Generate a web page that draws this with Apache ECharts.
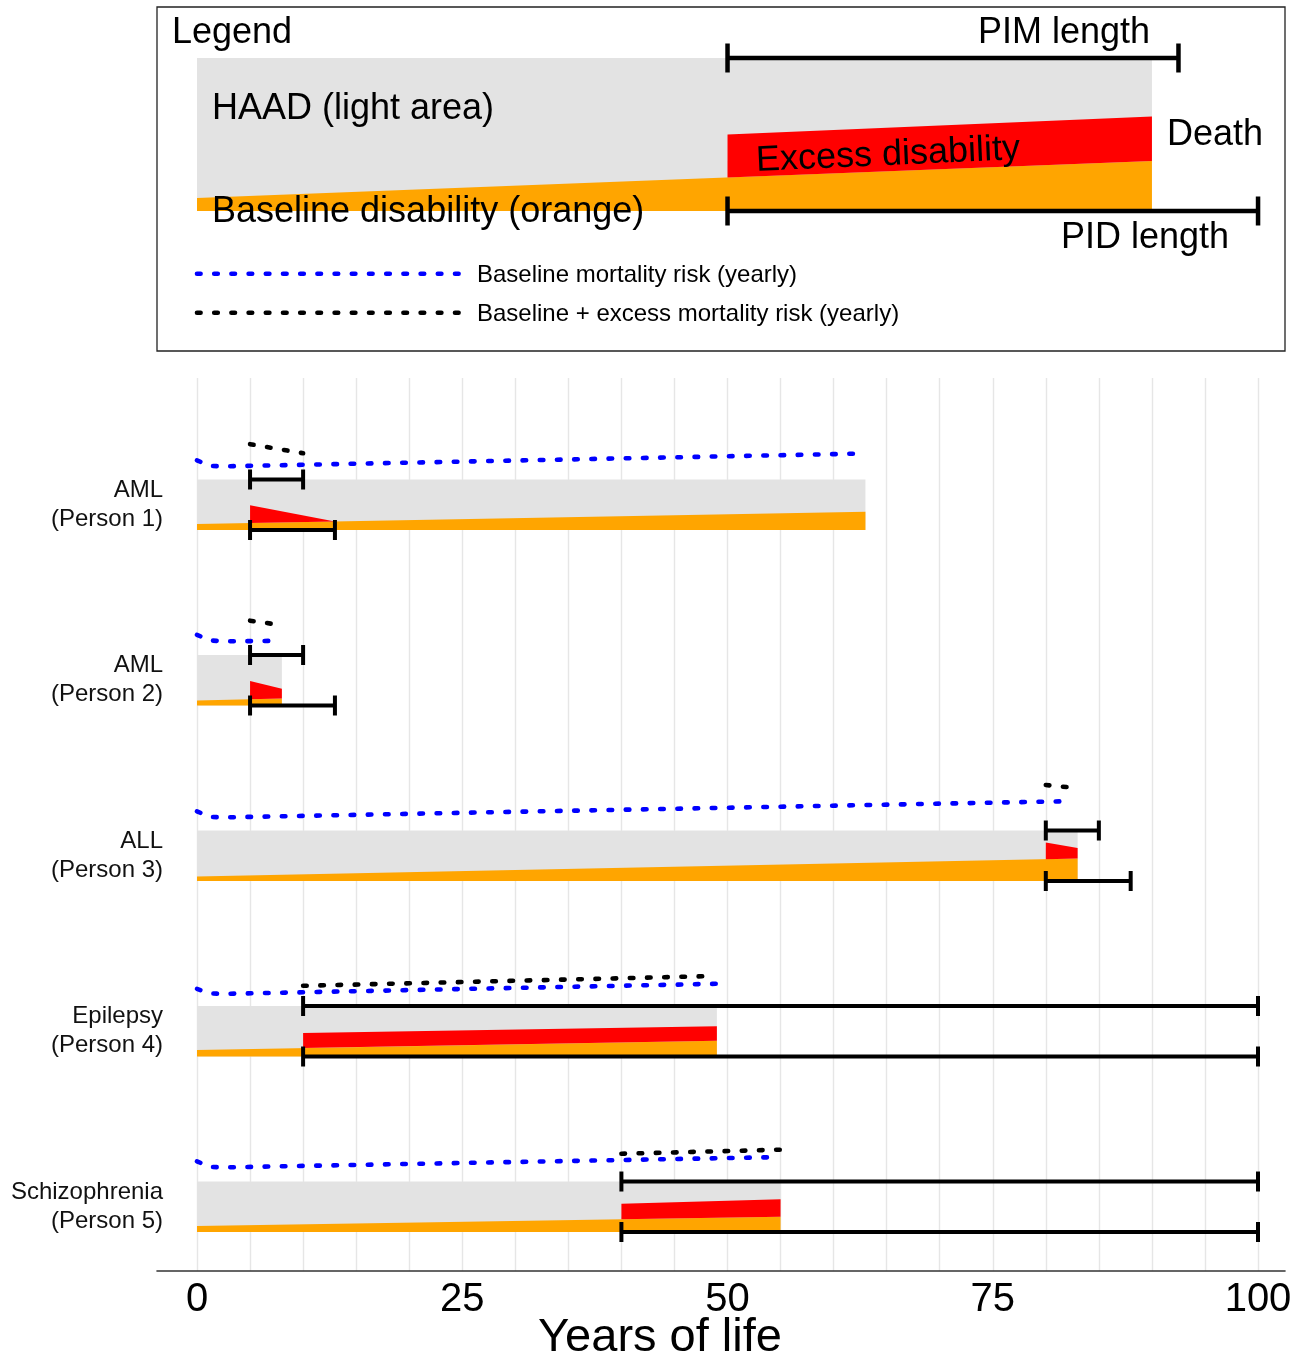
<!DOCTYPE html>
<html>
<head>
<meta charset="utf-8">
<title>Years of life</title>
<script src="https://cdn.jsdelivr.net/npm/echarts@6.0.0/dist/echarts.min.js"></script>
<style>
  html, body { margin: 0; padding: 0; background: #ffffff; }
  #chart { width: 1308px; height: 1359px; }
</style>
</head>
<body>
<div id="chart"></div>
<script>
// ---- Person rows (top to bottom) ----
const persons = ['AML\n(Person 1)', 'AML\n(Person 2)', 'ALL\n(Person 3)', 'Epilepsy\n(Person 4)', 'Schizophrenia\n(Person 5)'];
const deathAge = [63, 8, 83, 49, 55];
const onsetAge = [5, 5, 80, 10, 40];
const pimEnd = [10, 10, 85, 100, 100];
const pidEnd = [13, 13, 88, 100, 100];
// baseline disability, as a share of the HAAD band, at age 0 and at death
const baseDisStart = [0.12, 0.10, 0.09, 0.13, 0.12];
const baseDisEnd = [0.36, 0.14, 0.445, 0.31, 0.30];
// excess disability thickness [age, share of band] at onset and at its end
const excessDis = [
  [[5, 0.35], [13, 0]],
  [[5, 0.36], [8, 0.19]],
  [[80, 0.33], [83, 0.21]],
  [[10, 0.30], [49, 0.29]],
  [[40, 0.31], [55, 0.35]]
];
// yearly mortality risk, drawn as height above the band [age, band units]
const baseMort = [
  [[0, 0.38], [1.2, 0.27], [2.5, 0.26], [63, 0.515]],
  [[0, 0.40], [1.2, 0.29], [2.5, 0.27], [7, 0.28]],
  [[0, 0.38], [1.2, 0.27], [2.5, 0.26], [82, 0.58]],
  [[0, 0.34], [1.2, 0.25], [2.5, 0.24], [49, 0.44]],
  [[0, 0.40], [1.2, 0.29], [2.5, 0.28], [54, 0.48]]
];
const excessMort = [
  [[5, 0.70], [10, 0.52]],
  [[5, 0.68], [7, 0.62]],
  [[80, 0.90], [82, 0.86]],
  [[10, 0.40], [48, 0.59]],
  [[40, 0.55], [55, 0.63]]
];
const xTicks = [0, 25, 50, 75, 100];

// ---- Legend schematic ----
const legendDeath = 90;
const legendOnset = 50;
const legendPimEnd = 92.5;
const legendPidEnd = 100;
const legendBaseDis = [0.085, 0.327];
const legendExcessDis = [[50, 0.28], [90, 0.29]];
const legendKeySpan = [0, 25];
const legendKeyLevel = [-0.41, -0.665];

// ---- Layout helpers ----
const BAND = 50.5 / 175.5;             // band height in row units
const rowY = (k, v) => k + BAND / 2 - v * BAND;   // v: band units above band bottom
const legY = v => v;

const GRAY = '#e3e3e3', ORANGE = '#ffa500', RED = '#ff0000', BLUE = '#0000ff', BLACK = '#000000';
const DOTS = [3.6, 13.6];

function shapes(mapY, death, b0, b1, excess) {
  const base = a => b0 + (b1 - b0) * a / death;
  const [[a0, e0], [a1, e1]] = excess;
  return {
    haad: [[0, mapY(0)], [death, mapY(0)], [death, mapY(1)], [0, mapY(1)]],
    orange: [[0, mapY(0)], [death, mapY(0)], [death, mapY(b1)], [0, mapY(b0)]],
    red: [[a0, mapY(base(a0))], [a1, mapY(base(a1))], [a1, mapY(base(a1) + e1)], [a0, mapY(base(a0) + e0)]]
  };
}

const mainShapes = persons.map((p, i) =>
  shapes(v => rowY(i + 1, v), deathAge[i], baseDisStart[i], baseDisEnd[i], excessDis[i]));
const legendShapes = shapes(legY, legendDeath, legendBaseDis[0], legendBaseDis[1], legendExcessDis);

function polySeries(polys, color, axis, z) {
  return {
    type: 'custom', xAxisIndex: axis, yAxisIndex: axis, z: z, silent: true, animation: false,
    data: polys.map((p, i) => [i, 0]),
    renderItem: (params, api) => ({
      type: 'polygon',
      shape: { points: polys[api.value(0)].map(pt => api.coord(pt)) },
      style: { fill: color }
    })
  };
}

function barSeries(items, axis, width) {
  return {
    type: 'custom', xAxisIndex: axis, yAxisIndex: axis, z: 8, silent: true, animation: false,
    data: items,
    renderItem: (params, api) => {
      const a = api.coord([api.value(0), api.value(2)]);
      const b = api.coord([api.value(1), api.value(2)]);
      const c = api.value(3);
      const style = { stroke: BLACK, lineWidth: width };
      return {
        type: 'group', children: [
          { type: 'line', shape: { x1: a[0], y1: a[1], x2: b[0], y2: b[1] }, style: style },
          { type: 'line', shape: { x1: a[0], y1: a[1] - c, x2: a[0], y2: a[1] + c }, style: style },
          { type: 'line', shape: { x1: b[0], y1: b[1] - c, x2: b[0], y2: b[1] + c }, style: style }
        ]
      };
    }
  };
}

function dotSeries(data, color, axis, z) {
  return {
    type: 'line', xAxisIndex: axis, yAxisIndex: axis, z: z, silent: true, animation: false,
    data: data, symbol: 'none',
    lineStyle: { color: color, width: 4.6, type: DOTS, cap: 'round' }
  };
}

const series = [];
// main panel (axis index 1)
series.push(polySeries(mainShapes.map(s => s.haad), GRAY, 1, 2));
series.push(polySeries(mainShapes.map(s => s.orange), ORANGE, 1, 3));
series.push(polySeries(mainShapes.map(s => s.red), RED, 1, 4));
persons.forEach((p, i) => {
  series.push(dotSeries(baseMort[i].map(([a, v]) => [a, rowY(i + 1, 1 + v)]), BLUE, 1, 5));
  series.push(dotSeries(excessMort[i].map(([a, v]) => [a, rowY(i + 1, 1 + v)]), BLACK, 1, 6));
});
const mainBars = [];
persons.forEach((p, i) => {
  mainBars.push([onsetAge[i], pimEnd[i], rowY(i + 1, 1), 10]);
  mainBars.push([onsetAge[i], pidEnd[i], rowY(i + 1, 0), 10]);
});
series.push(barSeries(mainBars, 1, 4));

// legend panel (axis index 0)
series.push(polySeries([legendShapes.haad], GRAY, 0, 2));
series.push(polySeries([legendShapes.orange], ORANGE, 0, 3));
series.push(polySeries([legendShapes.red], RED, 0, 4));
series.push(barSeries([
  [legendOnset, legendPimEnd, legY(1), 14.5],
  [legendOnset, legendPidEnd, legY(0), 14.5]
], 0, 4.5));
series.push(dotSeries(legendKeySpan.map(a => [a, legendKeyLevel[0]]), BLUE, 0, 5));
series.push(dotSeries(legendKeySpan.map(a => [a, legendKeyLevel[1]]), BLACK, 0, 5));

const FONT = 'Liberation Sans, Arial, sans-serif';
const bigText = { fontSize: 36, fontFamily: FONT, fill: '#000' };
const smallText = { fontSize: 24, fontFamily: FONT, fill: '#000' };
function label(text, x, y, align, base, extra) {
  return Object.assign({
    type: 'text', x: x, y: y, silent: true, z: 20,
    style: Object.assign({ text: text, textAlign: align, textVerticalAlign: 'middle' }, base)
  }, extra || {});
}

const option = {
  animation: false,
  backgroundColor: '#ffffff',
  grid: [
    { left: 157, top: 7, width: 1128, height: 344, show: true, borderColor: '#222', borderWidth: 1.3, backgroundColor: 'transparent' },
    { left: 197, top: 378, width: 1061, height: 893 },
    { left: 157, top: 378, width: 1128, height: 893 }
  ],
  xAxis: [
    { type: 'value', gridIndex: 0, min: -3.77, max: 102.54, show: false },
    {
      type: 'value', gridIndex: 1, min: 0, max: 100, interval: 5,
      axisLine: { show: false }, axisTick: { show: false },
      splitLine: { show: true, lineStyle: { color: '#e6e6e6', width: 1.4 } },
      axisLabel: {
        formatter: v => (xTicks.indexOf(v) >= 0 ? String(v) : ''),
        fontSize: 40, fontFamily: FONT, color: '#000', margin: 9
      }
    },
    {
      type: 'value', gridIndex: 2, min: -3.77, max: 102.54,
      axisLine: { show: true, onZero: false, lineStyle: { color: '#333', width: 1.6 } },
      axisTick: { show: false }, axisLabel: { show: false }, splitLine: { show: false }
    }
  ],
  yAxis: [
    { type: 'value', gridIndex: 0, min: -0.915, max: 1.3333, show: false },
    {
      type: 'value', gridIndex: 1, inverse: true, min: 0.2778, max: 5.366,
      axisLine: { show: false }, axisTick: { show: false }, splitLine: { show: false },
      axisLabel: {
        customValues: [1, 2, 3, 4, 5],
        formatter: v => persons[Math.round(v) - 1] || '',
        fontSize: 24, lineHeight: 29, fontFamily: FONT, color: '#111', margin: 34, align: 'right',
        padding: [5, 0, 0, 0]
      }
    },
    { type: 'value', gridIndex: 2, min: 0, max: 1, show: false }
  ],
  series: series,
  graphic: [
    label('Legend', 172, 33, 'left', bigText),
    label('PIM length', 1064, 33, 'center', bigText),
    label('HAAD (light area)', 212, 109, 'left', bigText),
    label('Excess disability', 888, 155, 'center', bigText, { rotation: 2.6 * Math.PI / 180 }),
    label('Death', 1167, 135, 'left', bigText),
    label('Baseline disability (orange)', 212, 212, 'left', bigText),
    label('PID length', 1145, 238, 'center', bigText),
    label('Baseline mortality risk (yearly)', 477, 275, 'left', smallText),
    label('Baseline + excess mortality risk (yearly)', 477, 314, 'left', smallText),
    label('Years of life', 660, 1338, 'center', { fontSize: 47, fontFamily: FONT, fill: '#000' })
  ]
};

echarts.init(document.getElementById('chart'), null, { renderer: 'canvas' }).setOption(option);
</script>
</body>
</html>
